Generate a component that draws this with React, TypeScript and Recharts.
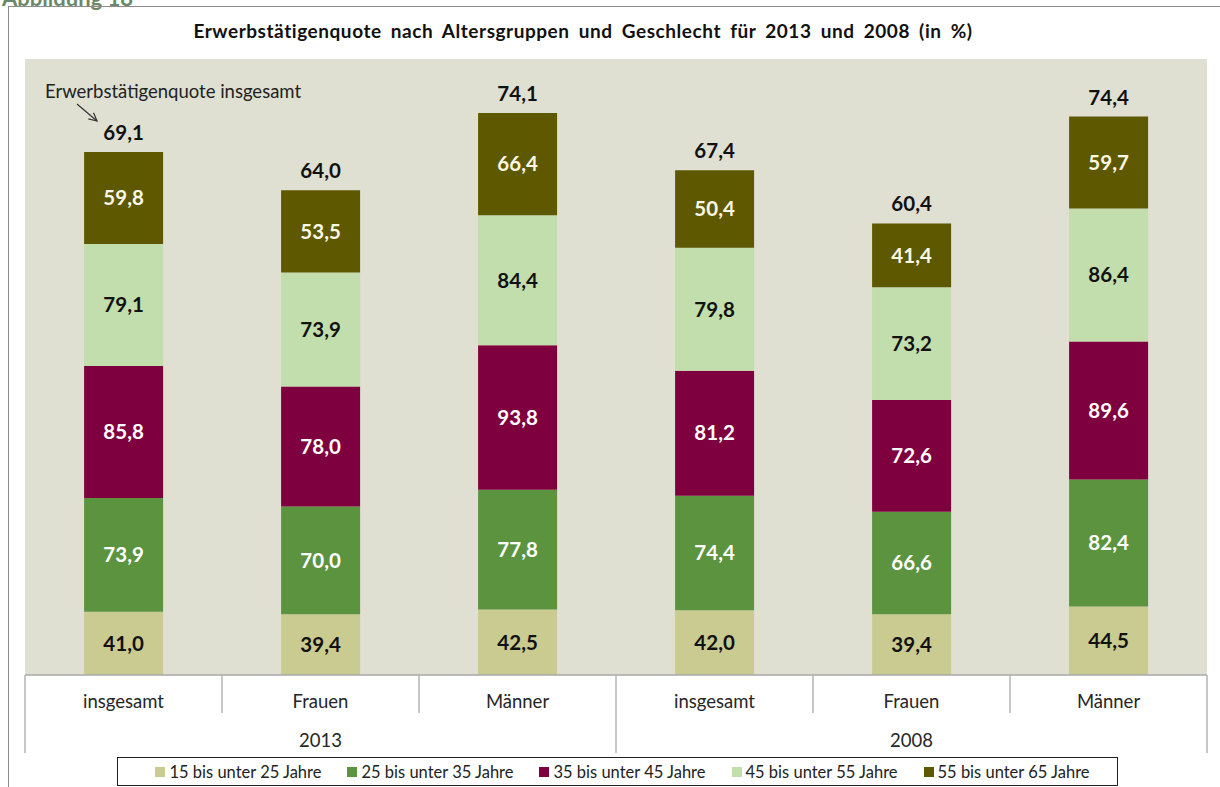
import React from 'react';
import { BarChart, Bar, XAxis, YAxis, CartesianGrid, LabelList } from 'recharts';

const categories = ['insgesamt', 'Frauen', 'Männer', 'insgesamt', 'Frauen', 'Männer'];
const years = ['2013', '2008'];

const age15to25 = [41.0, 39.4, 42.5, 42.0, 39.4, 44.5];
const age25to35 = [73.9, 70.0, 77.8, 74.4, 66.6, 82.4];
const age35to45 = [85.8, 78.0, 93.8, 81.2, 72.6, 89.6];
const age45to55 = [79.1, 73.9, 84.4, 79.8, 73.2, 86.4];
const age55to65 = [59.8, 53.5, 66.4, 50.4, 41.4, 59.7];
// Erwerbstätigenquote insgesamt (label over each bar)
const totals = [69.1, 64.0, 74.1, 67.4, 60.4, 74.4];

const series = [
  { key: 'a15', name: '15 bis unter 25 Jahre', values: age15to25, color: '#C9CB91', text: '#111111' },
  { key: 'a25', name: '25 bis unter 35 Jahre', values: age25to35, color: '#5B933F', text: '#FFFFFF' },
  { key: 'a35', name: '35 bis unter 45 Jahre', values: age35to45, color: '#7E003F', text: '#FFFFFF' },
  { key: 'a45', name: '45 bis unter 55 Jahre', values: age45to55, color: '#C2DEAC', text: '#111111' },
  { key: 'a55', name: '55 bis unter 65 Jahre', values: age55to65, color: '#5E5900', text: '#FBF8E6' },
];

const data = categories.map((cat, i) => {
  const row: Record<string, any> = { cat, total: totals[i] };
  series.forEach((s) => {
    row[s.key] = s.values[i];
  });
  return row;
});

const FONT = 'Lato, "Noto Sans", sans-serif';
const fmt = (v: any) => Number(v).toFixed(1).replace('.', ',');

function CategoryTick(props: any) {
  const { x, y, payload, index, width } = props;
  const bw = (width || 1182) / categories.length;
  const groupSize = categories.length / years.length;
  const left = x - bw / 2;
  const groupStart = index % groupSize === 0;
  return (
    <g>
      <line x1={left} x2={left} y1={y} y2={y + (groupStart ? 78 : 38)} stroke="#B4B4B4" strokeWidth={1.5} />
      {index === categories.length - 1 && (
        <line x1={x + bw / 2} x2={x + bw / 2} y1={y} y2={y + 78} stroke="#B4B4B4" strokeWidth={1.5} />
      )}
      <text x={x} y={y + 33} textAnchor="middle" fontSize={18.5} fill="#262626" fontFamily={FONT}>
        {payload.value}
      </text>
      {index % groupSize === Math.floor(groupSize / 2) && (
        <text x={x} y={y + 72} textAnchor="middle" fontSize={18.5} fill="#262626" fontFamily={FONT}>
          {years[Math.floor(index / groupSize)]}
        </text>
      )}
    </g>
  );
}

export default function App() {
  return (
    <div style={{ position: 'relative', width: 1220, height: 787, background: '#fff', overflow: 'hidden' }}>
      <style>{'body{margin:0;overflow:hidden}'}</style>

      <div
        style={{
          position: 'absolute',
          left: 2,
          top: -16,
          fontFamily: FONT,
          fontWeight: 700,
          fontSize: 22,
          color: '#6B8868',
        }}
      >
        Abbildung 18
      </div>

      {/* outer frame */}
      <div
        style={{
          position: 'absolute',
          left: 8,
          top: 6,
          width: 1240,
          height: 820,
          border: '1px solid #8C8C8C',
        }}
      />

      <div
        style={{
          position: 'absolute',
          left: 0,
          top: 19,
          width: 1166,
          textAlign: 'center',
          fontFamily: FONT,
          fontWeight: 700,
          fontSize: 19,
          letterSpacing: 0.55,
          wordSpacing: 4,
          color: '#111',
        }}
      >
        Erwerbstätigenquote nach Altersgruppen und Geschlecht für 2013 und 2008 (in %)
      </div>

      <div style={{ position: 'absolute', left: 0, top: 0 }}>
        <BarChart
          width={1220}
          height={787}
          data={data}
          margin={{ top: 59, right: 13, left: 25, bottom: 32 }}
          barCategoryGap="30%"
        >
          <CartesianGrid fill="#DFDFD2" stroke="none" horizontal={false} vertical={false} />
          <YAxis hide domain={[0, 400]} />
          <XAxis
            dataKey="cat"
            height={80}
            interval={0}
            tickSize={0}
            tickMargin={0}
            tickLine={false}
            axisLine={{ stroke: '#A8A8A8', strokeWidth: 1.5 }}
            tick={<CategoryTick />}
          />
          {series.map((s, si) => (
            <Bar key={s.key} dataKey={s.key} name={s.name} stackId="q" fill={s.color} isAnimationActive={false}>
              <LabelList
                dataKey={s.key}
                position="center"
                formatter={fmt}
                fill={s.text}
                fontSize={20.5}
                fontWeight={700}
                fontFamily={FONT}
              />
              {si === series.length - 1 && (
                <LabelList
                  dataKey="total"
                  position="top"
                  offset={12}
                  formatter={fmt}
                  fill="#111111"
                  fontSize={20.5}
                  fontWeight={700}
                  fontFamily={FONT}
                />
              )}
            </Bar>
          ))}
        </BarChart>
      </div>

      {/* annotation */}
      <svg width={1220} height={787} style={{ position: 'absolute', left: 0, top: 0, pointerEvents: 'none' }}>
        <defs>
          <marker id="arr" markerWidth={10} markerHeight={10} refX={9} refY={5} orient="auto" markerUnits="userSpaceOnUse">
            <path d="M1,1 L9,5 L1,9" fill="none" stroke="#333" strokeWidth={1.2} />
          </marker>
        </defs>
        <text x={45} y={98} fontSize={18.5} fill="#222" fontFamily={FONT}>
          Erwerbstätigenquote insgesamt
        </text>
        <line x1={77} y1={104} x2={97} y2={121} stroke="#333" strokeWidth={1.2} markerEnd="url(#arr)" />
      </svg>

      {/* legend */}
      <div
        style={{
          position: 'absolute',
          left: 117,
          top: 757,
          width: 1001,
          height: 29,
          boxSizing: 'border-box',
          border: '1px solid #222',
          background: '#fff',
          display: 'flex',
          alignItems: 'center',
          justifyContent: 'center',
          gap: 26,
          paddingLeft: 10,
          fontFamily: FONT,
          fontSize: 16.5,
          color: '#222',
        }}
      >
        {series.map((s) => (
          <div key={s.key} style={{ display: 'flex', alignItems: 'center' }}>
            <span style={{ display: 'inline-block', width: 10, height: 10, background: s.color, marginRight: 4 }} />
            {s.name}
          </div>
        ))}
      </div>
    </div>
  );
}
